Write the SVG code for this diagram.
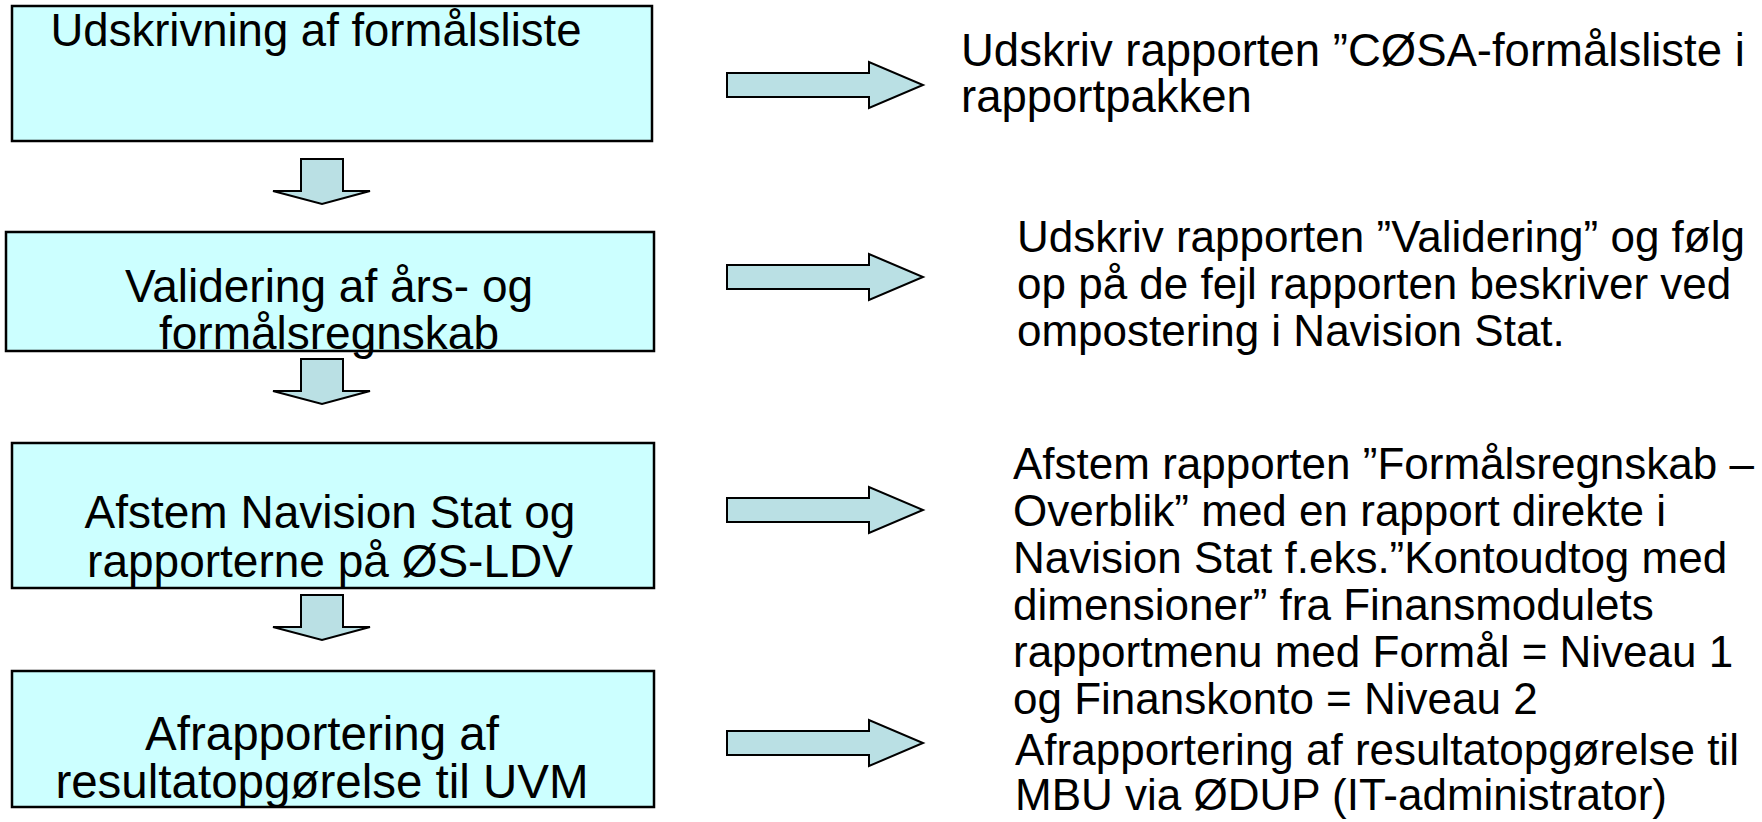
<svg xmlns="http://www.w3.org/2000/svg" width="1762" height="822" viewBox="0 0 1762 822">
<defs>
<style>
.box{fill:#CCFFFF;stroke:#000;stroke-width:2.5}
.arr{fill:#BAE0E4;stroke:#000;stroke-width:2;stroke-linejoin:miter}
.bt{font-family:"Liberation Sans",Arial,sans-serif;font-size:46px;fill:#000;text-anchor:middle}
.rt{font-family:"Liberation Sans",Arial,sans-serif;font-size:44px;fill:#000}
</style>
<path id="ra" d="M0,-12 H142 V-23 L196,0 L142,23 V12 H0 Z"/>
<path id="da" d="M-21,0 H21 V32 H48 L0,45 L-49,32 H-21 Z"/>
</defs>
<rect width="1762" height="822" fill="#fff"/>
<g id="n1">
<rect class="box" x="12" y="6" width="640" height="135"/>
<text class="bt" x="316" y="46" style="font-size:45.5px">Udskrivning af formålsliste</text>
</g>
<g id="n2">
<rect class="box" x="6" y="232" width="648" height="119"/>
<text class="bt" x="329" y="302">Validering af års- og</text>
<text class="bt" x="329" y="349">formålsregnskab</text>
</g>
<g id="n3">
<rect class="box" x="12" y="443" width="642" height="145"/>
<text class="bt" x="330" y="528">Afstem Navision Stat og</text>
<text class="bt" x="330" y="577">rapporterne på ØS-LDV</text>
</g>
<g id="n4">
<rect class="box" x="12" y="671" width="642" height="136"/>
<text class="bt" x="322" y="750" style="font-size:47.5px">Afrapportering af</text>
<text class="bt" x="322" y="798" style="font-size:47.5px">resultatopgørelse til UVM</text>
</g>
<g id="t1">
<text class="rt" x="961" y="66" style="font-size:45.5px">Udskriv rapporten ”CØSA-formålsliste i</text>
<text class="rt" x="961" y="112" style="font-size:45.5px">rapportpakken</text>
</g>
<g id="t2">
<text class="rt" x="1017" y="252">Udskriv rapporten ”Validering” og følg</text>
<text class="rt" x="1017" y="299">op på de fejl rapporten beskriver ved</text>
<text class="rt" x="1017" y="346">ompostering i Navision Stat.</text>
</g>
<g id="t3">
<text class="rt" x="1013" y="479">Afstem rapporten ”Formålsregnskab –</text>
<text class="rt" x="1013" y="526">Overblik” med en rapport direkte i</text>
<text class="rt" x="1013" y="573">Navision Stat f.eks.”Kontoudtog med</text>
<text class="rt" x="1013" y="620">dimensioner” fra Finansmodulets</text>
<text class="rt" x="1013" y="667">rapportmenu med Formål = Niveau 1</text>
<text class="rt" x="1013" y="714">og Finanskonto = Niveau 2</text>
</g>
<g id="t4">
<text class="rt" x="1015" y="765">Afrapportering af resultatopgørelse til</text>
<text class="rt" x="1015" y="810">MBU via ØDUP (IT-administrator)</text>
</g>
<g id="connectors">
<use href="#da" x="322" y="159" class="arr"/>
<use href="#da" x="322" y="359" class="arr"/>
<use href="#da" x="322" y="595" class="arr"/>
<use href="#ra" x="727" y="85" class="arr"/>
<use href="#ra" x="727" y="277" class="arr"/>
<use href="#ra" x="727" y="510" class="arr"/>
<use href="#ra" x="727" y="743" class="arr"/>
</g>
</svg>
